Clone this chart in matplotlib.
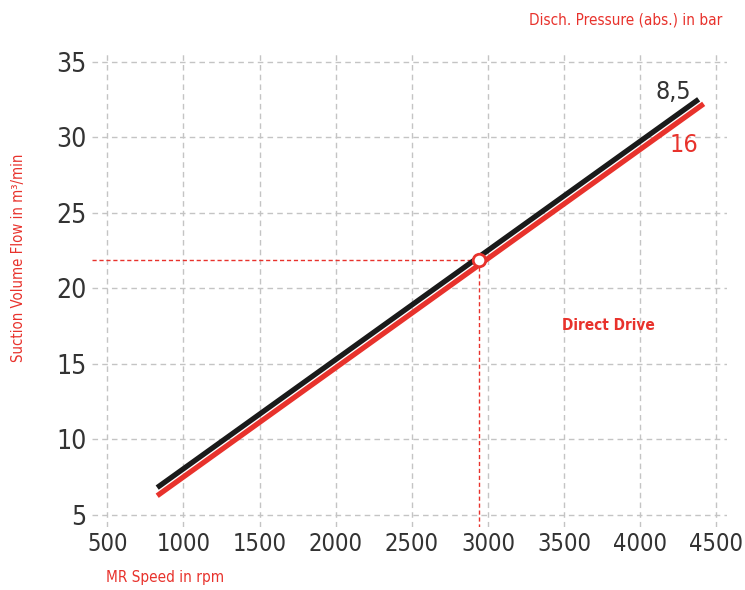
import matplotlib.pyplot as plt
import matplotlib as mpl

mpl.rcParams['font.family'] = ['Liberation Sans Narrow', 'DejaVu Sans']
mpl.rcParams['font.stretch'] = 'condensed'

# Datos
velocidad = [828, 4383]          # rpm, presión 8,5 bar
caudal_85 = [6.8, 32.5]
velocidad_16 = [828, 4416]
caudal_16 = [6.26, 32.2]
punto = (2938, 21.85)
xticks = [500, 1000, 1500, 2000, 2500, 3000, 3500, 4000, 4500]
yticks = [5, 10, 15, 20, 25, 30, 35]

rojo = '#e8322c'
gris = '#333333'

fig = plt.figure(figsize=(7.45, 5.9), dpi=100)
ax = fig.add_axes([0.1235, 0.107, 0.8525, 0.8066])

ax.set_xlim(400, 4570)
ax.set_ylim(4.2, 35.7)
ax.set_xticks(xticks)
ax.set_yticks(yticks)
ax.tick_params(length=0, colors=gris, pad=4)
ax.tick_params(axis='x', labelsize=17)
ax.tick_params(axis='y', labelsize=19)
for s in ax.spines.values():
    s.set_visible(False)
ax.grid(True, color='#c4c4c4', linestyle=(0, (4, 3)), linewidth=1.0)
ax.set_axisbelow(True)

# Líneas de presión
ax.plot(velocidad, caudal_85, color='#1a1a1a', lw=3.8, solid_capstyle='butt', zorder=3)
ax.plot(velocidad_16, caudal_16, color=rojo, lw=3.8, solid_capstyle='butt', zorder=3)

# Punto de operación con líneas auxiliares
ax.plot([400, punto[0]], [punto[1], punto[1]], color=rojo, lw=1, ls=(0, (3, 2)), zorder=2)
ax.plot([punto[0], punto[0]], [punto[1], 4.2], color=rojo, lw=1, ls=(0, (3, 2)), zorder=2)
ax.plot(*punto, 'o', ms=9, mfc='white', mec=rojo, mew=2, zorder=4)

ax.text(4219, 33.0, '8,5', fontsize=18, color=gris, ha='center', va='center')
ax.text(4285, 29.5, '16', fontsize=18, color=rojo, ha='center', va='center')
ax.text(3792, 17.5, 'Direct Drive', fontsize=11, color=rojo, fontweight='bold',
        ha='center', va='center')

fig.text(0.025, 0.563, 'Suction Volume Flow in m³/min', rotation=90, color=rojo,
         fontsize=10.7, ha='center', va='center')
fig.text(0.222, 0.022, 'MR Speed in rpm', color=rojo, fontsize=11, ha='center', va='center')
fig.text(0.97, 0.966, 'Disch. Pressure (abs.) in bar', color=rojo, fontsize=11,
         ha='right', va='center')

fig.savefig('out.png', dpi=100)
